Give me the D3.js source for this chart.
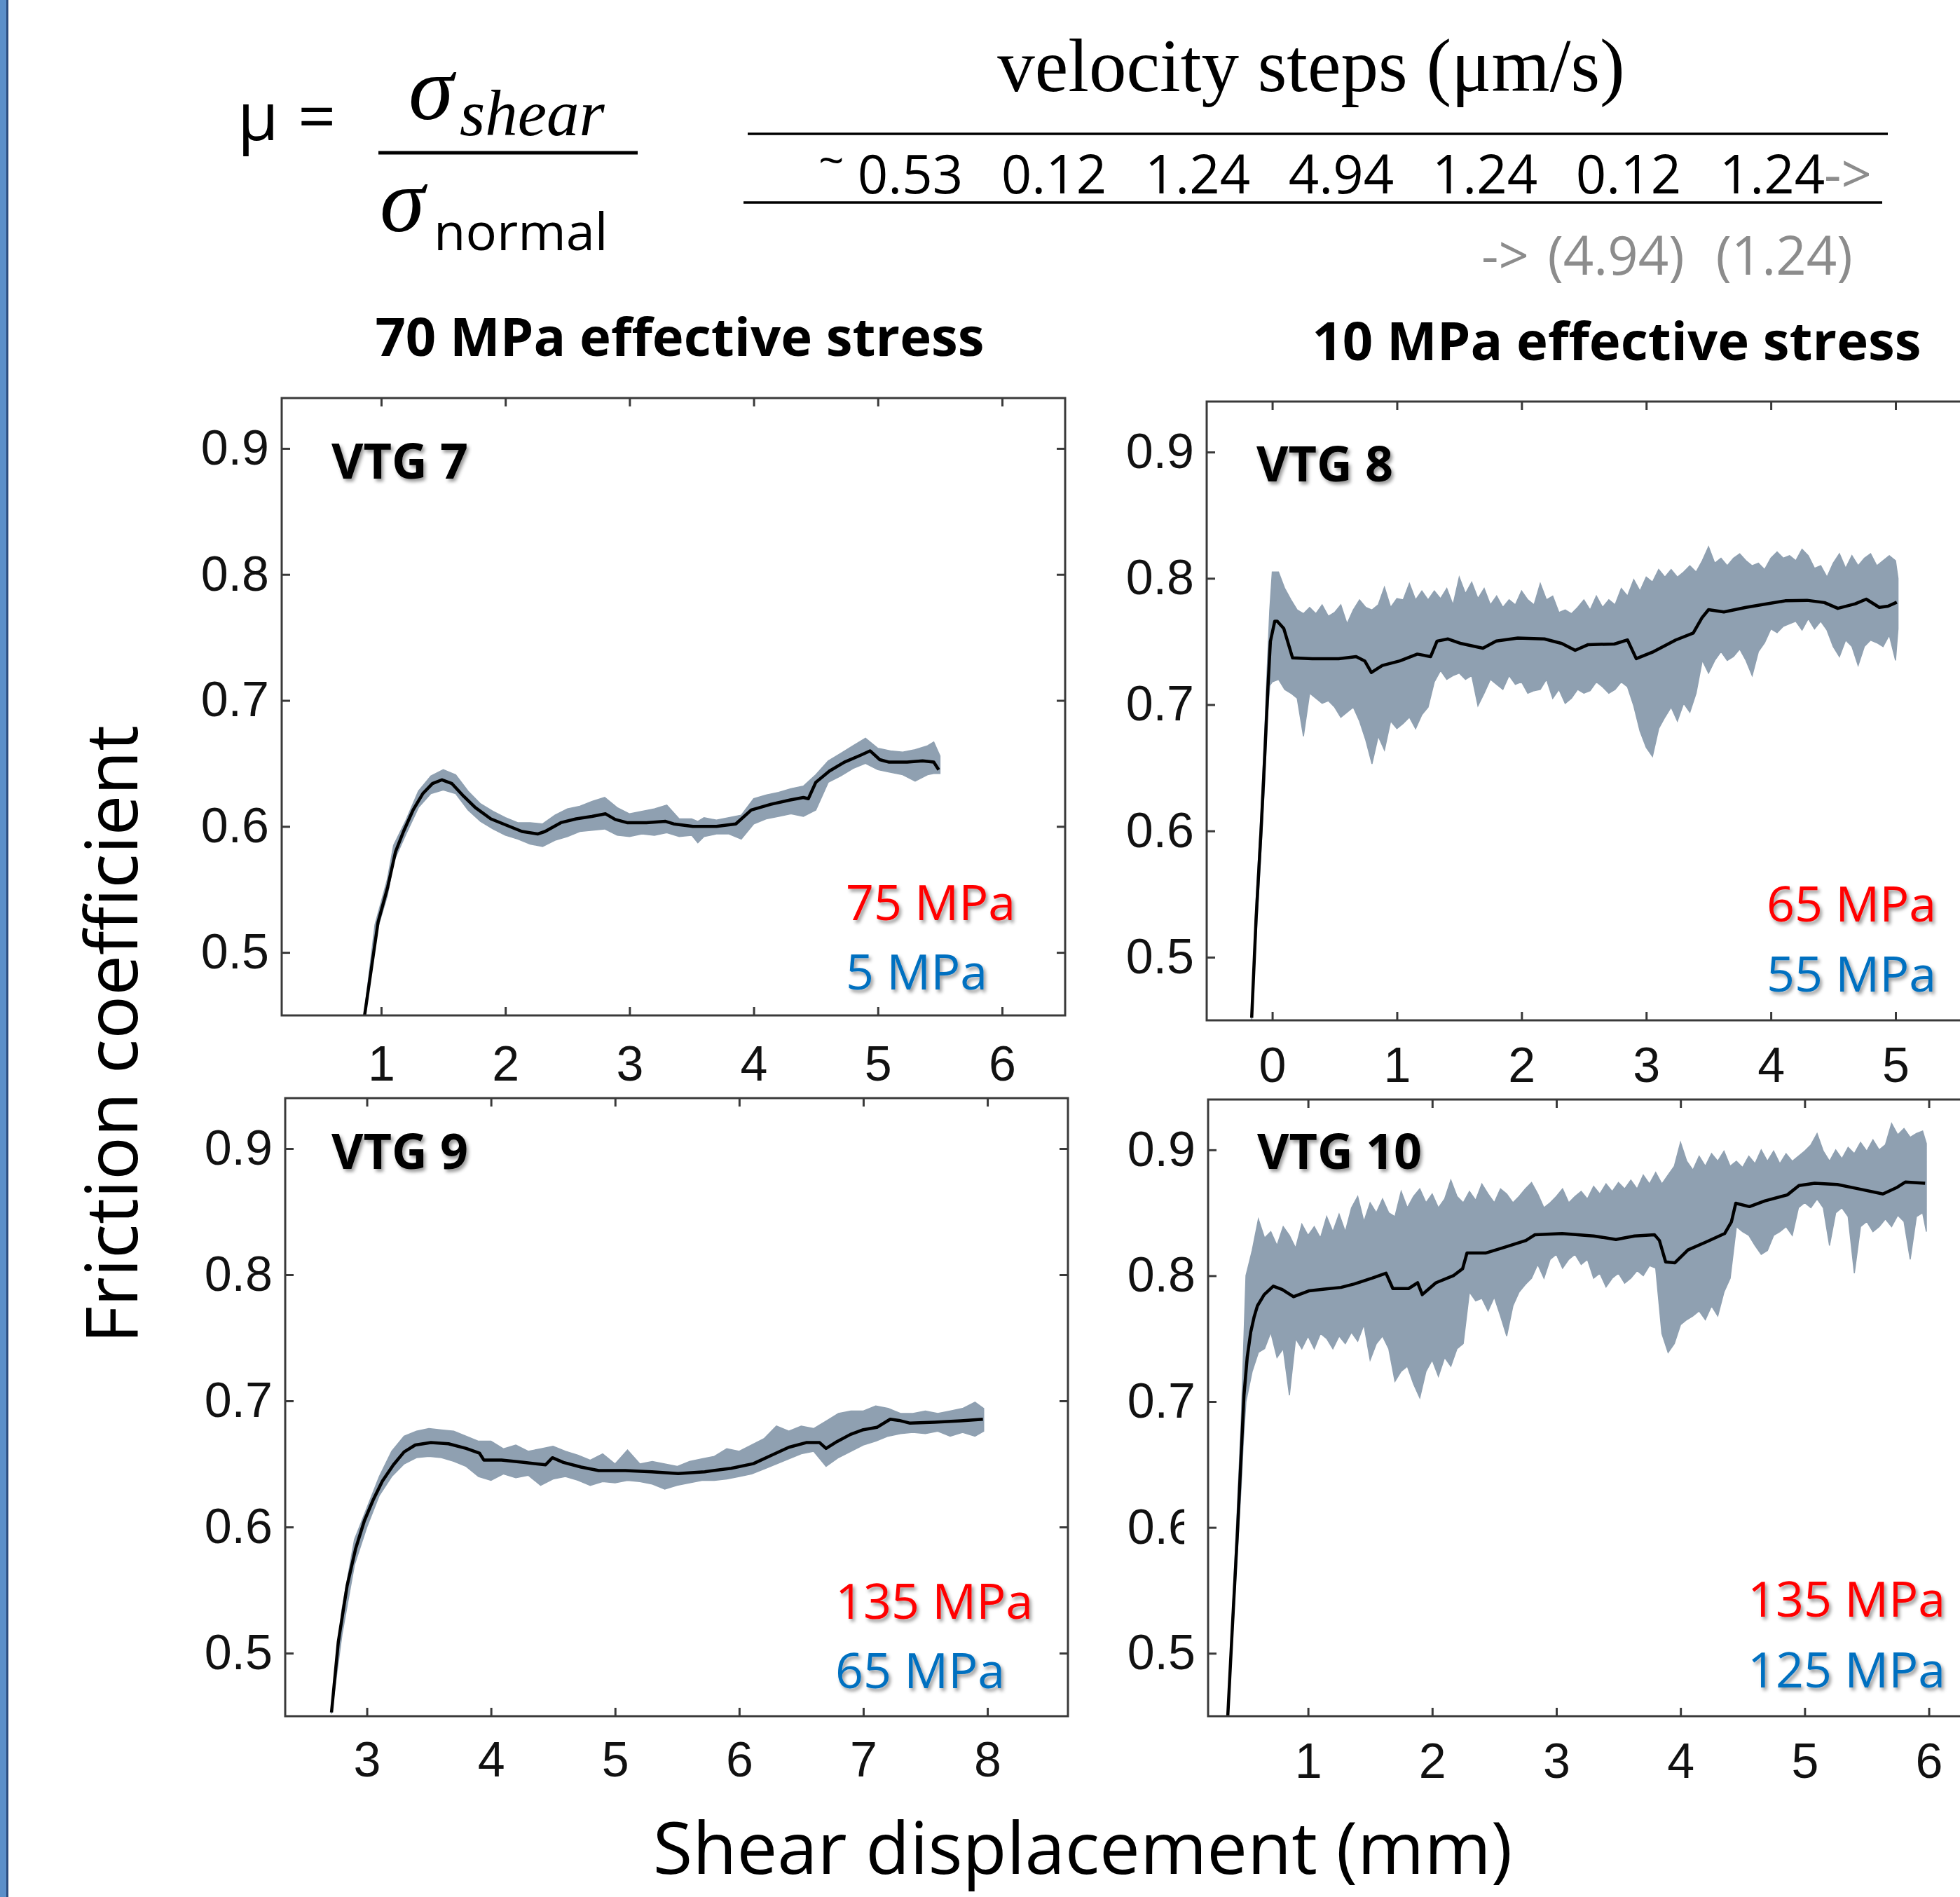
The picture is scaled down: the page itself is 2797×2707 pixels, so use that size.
<!DOCTYPE html>
<html>
<head>
<meta charset="utf-8">
<script src="https://cdn.jsdelivr.net/npm/d3@7"></script>
<style>
  body { margin: 0; background: #fff; }
  svg { display: block; background: #fff; }
  .frame { fill: none; stroke: #3a3a3a; stroke-width: 3; }
  .axis line { stroke: #3a3a3a; stroke-width: 3; }
  .axis text { font-family: "Liberation Sans", Arial, sans-serif; font-size: 70px; fill: #111; }
  .sans { font-family: "Open Sans", "Noto Sans", sans-serif; }
  .serif { font-family: "Liberation Serif", "DejaVu Serif", serif; }
</style>
</head>
<body>
<svg id="chart"></svg>
<script>
// ---- values ----
const yTicks = [0.5, 0.6, 0.7, 0.8, 0.9];
const xTicksVTG7 = [1, 2, 3, 4, 5, 6];
const xTicksVTG8 = [0, 1, 2, 3, 4, 5];
const xTicksVTG9 = [3, 4, 5, 6, 7, 8];
const xTicksVTG10 = [1, 2, 3, 4, 5, 6];

const panelNames = ['VTG 7', 'VTG 8', 'VTG 9', 'VTG 10'];
const confiningPressure = ['75 MPa', '65 MPa', '135 MPa', '135 MPa'];
const porePressure = ['5 MPa', '55 MPa', '65 MPa', '125 MPa'];
const stressTitles = ['70 MPa effective stress', '10 MPa effective stress'];
const velocitySteps = ['0.53', '0.12', '1.24', '4.94', '1.24', '0.12', '1.24'];
const velocityStepsCont = ['(4.94)', '(1.24)'];

// smoothed friction [displacement mm, mu]
const vtg7Smooth = [[0.865,0.449],[0.975,0.524],[1.053,0.552],[1.116,0.580],[1.18,0.596],[1.257,0.613],[1.335,0.626],[1.413,0.634],[1.49,0.637],[1.57,0.634],[1.664,0.624],[1.758,0.615],[1.883,0.606],[2.008,0.601],[2.134,0.596],[2.26,0.594],[2.32,0.596],[2.447,0.603],[2.57,0.606],[2.697,0.608],[2.807,0.610],[2.885,0.6055],[2.98,0.603],[3.136,0.603],[3.29,0.604],[3.355,0.602],[3.51,0.600],[3.70,0.600],[3.856,0.602],[3.98,0.613],[4.14,0.6176],[4.295,0.621],[4.40,0.623],[4.44,0.622],[4.50,0.635],[4.61,0.644],[4.73,0.651],[4.86,0.6565],[4.937,0.66],[5.015,0.653],[5.09,0.651],[5.235,0.651],[5.36,0.652],[5.45,0.651],[5.49,0.645]];
// raw friction envelope [displacement mm, low, high]
const vtg7Raw = [[0.865,0.448,0.452],[0.95,0.512,0.522],[1.05,0.545,0.558],[1.1,0.572,0.585],[1.2,0.594,0.605],[1.3,0.615,0.628],[1.4,0.626,0.640],[1.5,0.629,0.645],[1.6,0.626,0.641],[1.7,0.613,0.628],[1.8,0.604,0.618],[1.9,0.598,0.612],[2.0,0.593,0.607],[2.1,0.590,0.603],[2.2,0.586,0.603],[2.3,0.584,0.602],[2.4,0.589,0.609],[2.5,0.592,0.614],[2.6,0.596,0.616],[2.7,0.597,0.620],[2.8,0.598,0.623],[2.9,0.593,0.615],[3.0,0.592,0.610],[3.1,0.594,0.612],[3.2,0.593,0.614],[3.3,0.595,0.617],[3.4,0.592,0.606],[3.5,0.593,0.606],[3.55,0.587,0.604],[3.6,0.592,0.607],[3.7,0.594,0.605],[3.8,0.594,0.607],[3.9,0.590,0.609],[4.0,0.602,0.622],[4.1,0.606,0.625],[4.2,0.608,0.627],[4.3,0.610,0.630],[4.4,0.608,0.632],[4.5,0.613,0.641],[4.6,0.635,0.652],[4.7,0.640,0.658],[4.8,0.646,0.664],[4.9,0.650,0.670],[5.0,0.645,0.662],[5.1,0.643,0.660],[5.2,0.641,0.659],[5.3,0.636,0.661],[5.4,0.641,0.664],[5.45,0.642,0.667],[5.5,0.642,0.656]];

const vtg8Smooth = [[-0.165,0.452],[-0.13,0.53],[-0.09,0.60],[-0.06,0.66],[-0.035,0.713],[-0.015,0.75],[0.02,0.766],[0.04,0.766],[0.092,0.7604],[0.163,0.737],[0.32,0.7364],[0.532,0.7364],[0.673,0.738],[0.742,0.7346],[0.795,0.7254],[0.883,0.731],[1.023,0.7346],[1.164,0.740],[1.27,0.738],[1.322,0.7503],[1.41,0.752],[1.515,0.7484],[1.69,0.7447],[1.797,0.7503],[1.97,0.7527],[2.183,0.752],[2.323,0.7484],[2.43,0.743],[2.534,0.7475],[2.745,0.748],[2.85,0.7512],[2.92,0.7364],[3.06,0.742],[3.237,0.7512],[3.377,0.7567],[3.447,0.7687],[3.50,0.7752],[3.623,0.7734],[3.80,0.777],[3.94,0.7793],[4.115,0.7822],[4.29,0.7826],[4.43,0.7808],[4.537,0.7762],[4.677,0.7798],[4.765,0.7835],[4.87,0.777],[4.94,0.778],[5.01,0.7811]];
const vtg8Raw = [[-0.165,0.450,0.458],[-0.13,0.515,0.545],[-0.09,0.585,0.615],[-0.06,0.640,0.680],[-0.04,0.690,0.730],[-0.02,0.715,0.775],[0.0,0.718,0.805],[0.05,0.720,0.805],[0.1,0.712,0.792],[0.15,0.709,0.783],[0.2,0.705,0.775],[0.25,0.675,0.772],[0.3,0.709,0.777],[0.35,0.705,0.772],[0.4,0.701,0.779],[0.45,0.703,0.770],[0.5,0.698,0.773],[0.55,0.690,0.779],[0.6,0.694,0.764],[0.65,0.698,0.775],[0.7,0.687,0.783],[0.75,0.672,0.777],[0.8,0.653,0.775],[0.85,0.675,0.779],[0.9,0.664,0.793],[0.95,0.687,0.777],[1.0,0.681,0.784],[1.05,0.685,0.783],[1.1,0.690,0.796],[1.15,0.681,0.783],[1.2,0.692,0.790],[1.25,0.698,0.783],[1.3,0.718,0.790],[1.35,0.727,0.784],[1.4,0.720,0.792],[1.45,0.723,0.779],[1.5,0.725,0.801],[1.55,0.720,0.788],[1.6,0.723,0.797],[1.65,0.699,0.784],[1.7,0.709,0.792],[1.75,0.720,0.779],[1.8,0.716,0.786],[1.85,0.712,0.777],[1.9,0.723,0.783],[1.95,0.716,0.779],[2.0,0.718,0.790],[2.05,0.709,0.783],[2.1,0.711,0.779],[2.15,0.712,0.796],[2.2,0.720,0.783],[2.25,0.705,0.786],[2.3,0.712,0.773],[2.35,0.701,0.775],[2.4,0.705,0.772],[2.45,0.712,0.777],[2.5,0.709,0.783],[2.55,0.711,0.775],[2.6,0.718,0.786],[2.65,0.714,0.777],[2.7,0.709,0.783],[2.75,0.712,0.779],[2.8,0.718,0.792],[2.85,0.714,0.786],[2.9,0.699,0.799],[2.95,0.679,0.790],[3.0,0.666,0.801],[3.05,0.659,0.797],[3.1,0.681,0.807],[3.15,0.690,0.801],[3.2,0.698,0.807],[3.25,0.687,0.801],[3.3,0.701,0.805],[3.35,0.694,0.810],[3.4,0.709,0.805],[3.45,0.735,0.814],[3.5,0.725,0.825],[3.55,0.735,0.812],[3.6,0.742,0.816],[3.65,0.735,0.810],[3.7,0.738,0.816],[3.75,0.744,0.8195],[3.8,0.735,0.814],[3.85,0.723,0.810],[3.9,0.742,0.812],[3.95,0.749,0.807],[4.0,0.760,0.816],[4.05,0.757,0.821],[4.1,0.762,0.816],[4.15,0.764,0.818],[4.2,0.766,0.814],[4.25,0.759,0.823],[4.3,0.768,0.818],[4.35,0.760,0.808],[4.4,0.766,0.810],[4.45,0.759,0.801],[4.5,0.746,0.812],[4.55,0.738,0.8195],[4.6,0.751,0.808],[4.65,0.746,0.818],[4.7,0.731,0.810],[4.75,0.746,0.816],[4.8,0.751,0.8195],[4.85,0.749,0.810],[4.9,0.746,0.814],[4.95,0.755,0.818],[5.0,0.735,0.814],[5.02,0.760,0.800]];

const vtg9Smooth = [[2.715,0.453],[2.77,0.509],[2.84,0.553],[2.91,0.583],[2.98,0.605],[3.053,0.622],[3.125,0.6364],[3.214,0.6493],[3.30,0.6595],[3.39,0.665],[3.516,0.6669],[3.658,0.666],[3.80,0.6623],[3.907,0.6586],[3.943,0.653],[4.085,0.653],[4.263,0.6512],[4.44,0.6493],[4.495,0.6549],[4.584,0.6512],[4.726,0.6475],[4.868,0.6447],[5.082,0.6447],[5.295,0.6438],[5.509,0.6423],[5.722,0.6438],[5.936,0.6465],[6.114,0.6502],[6.256,0.6567],[6.40,0.6632],[6.54,0.6669],[6.648,0.6669],[6.70,0.6623],[6.79,0.6678],[6.897,0.6734],[7.0,0.6771],[7.11,0.679],[7.217,0.6854],[7.288,0.6845],[7.377,0.6823],[7.573,0.683],[7.786,0.6841],[7.964,0.6854]];
const vtg9Raw = [[2.715,0.452,0.458],[2.8,0.515,0.535],[2.9,0.570,0.590],[3.0,0.600,0.615],[3.1,0.625,0.640],[3.2,0.640,0.660],[3.3,0.650,0.672],[3.4,0.655,0.676],[3.5,0.656,0.678],[3.6,0.655,0.677],[3.7,0.652,0.676],[3.8,0.648,0.672],[3.9,0.640,0.668],[4.0,0.637,0.668],[4.1,0.642,0.662],[4.2,0.639,0.665],[4.3,0.641,0.660],[4.4,0.633,0.662],[4.5,0.638,0.664],[4.6,0.640,0.660],[4.7,0.637,0.657],[4.8,0.633,0.653],[4.9,0.636,0.658],[5.0,0.635,0.650],[5.1,0.637,0.661],[5.2,0.636,0.650],[5.3,0.634,0.652],[5.4,0.630,0.650],[5.5,0.633,0.648],[5.6,0.635,0.652],[5.7,0.637,0.654],[5.8,0.637,0.656],[5.9,0.638,0.662],[6.0,0.640,0.660],[6.1,0.642,0.665],[6.2,0.646,0.670],[6.3,0.650,0.680],[6.4,0.654,0.676],[6.5,0.658,0.680],[6.6,0.660,0.678],[6.7,0.648,0.684],[6.8,0.655,0.690],[6.9,0.660,0.692],[7.0,0.665,0.692],[7.1,0.668,0.696],[7.2,0.672,0.694],[7.3,0.674,0.690],[7.4,0.675,0.690],[7.5,0.674,0.692],[7.6,0.676,0.690],[7.7,0.672,0.692],[7.8,0.675,0.694],[7.9,0.672,0.699],[7.97,0.676,0.694]];

const vtg10Smooth = [[0.353,0.449],[0.39,0.52],[0.432,0.597],[0.46,0.655],[0.484,0.705],[0.51,0.735],[0.538,0.755],[0.565,0.767],[0.592,0.776],[0.647,0.785],[0.72,0.7917],[0.792,0.789],[0.883,0.7833],[1.01,0.788],[1.12,0.7893],[1.265,0.7907],[1.374,0.7935],[1.52,0.7982],[1.628,0.802],[1.683,0.7898],[1.81,0.7898],[1.883,0.7944],[1.92,0.785],[2.03,0.7944],[2.17,0.800],[2.245,0.8056],[2.28,0.818],[2.43,0.818],[2.573,0.8223],[2.755,0.828],[2.828,0.8326],[3.046,0.8335],[3.30,0.8316],[3.48,0.8288],[3.63,0.8316],[3.79,0.8326],[3.83,0.828],[3.88,0.811],[3.955,0.8103],[4.06,0.8205],[4.21,0.827],[4.355,0.8335],[4.41,0.8428],[4.445,0.8576],[4.555,0.8549],[4.68,0.8595],[4.86,0.8642],[4.954,0.8716],[5.08,0.8735],[5.263,0.8725],[5.445,0.8688],[5.63,0.865],[5.737,0.8698],[5.81,0.8744],[5.97,0.8735]];
const vtg10Raw = [[0.353,0.448,0.453],[0.39,0.51,0.53],[0.43,0.58,0.615],[0.46,0.63,0.68],[0.48,0.67,0.74],[0.5,0.700,0.800],[0.55,0.724,0.820],[0.6,0.739,0.845],[0.65,0.742,0.830],[0.7,0.755,0.835],[0.75,0.735,0.824],[0.8,0.742,0.839],[0.85,0.705,0.832],[0.9,0.750,0.822],[0.95,0.742,0.841],[1.0,0.752,0.832],[1.05,0.742,0.839],[1.1,0.754,0.830],[1.15,0.750,0.847],[1.2,0.742,0.835],[1.25,0.752,0.849],[1.3,0.746,0.835],[1.35,0.755,0.854],[1.4,0.748,0.863],[1.45,0.761,0.843],[1.5,0.733,0.858],[1.55,0.746,0.850],[1.6,0.752,0.861],[1.65,0.742,0.850],[1.7,0.716,0.847],[1.75,0.724,0.867],[1.8,0.728,0.854],[1.85,0.714,0.863],[1.9,0.703,0.869],[1.95,0.724,0.858],[2.0,0.733,0.865],[2.05,0.720,0.854],[2.1,0.735,0.861],[2.15,0.728,0.876],[2.2,0.742,0.863],[2.25,0.746,0.858],[2.3,0.787,0.867],[2.35,0.780,0.860],[2.4,0.782,0.873],[2.45,0.772,0.865],[2.5,0.783,0.858],[2.55,0.768,0.869],[2.6,0.752,0.865],[2.65,0.776,0.858],[2.7,0.787,0.863],[2.75,0.793,0.869],[2.8,0.798,0.874],[2.85,0.809,0.865],[2.9,0.798,0.854],[2.95,0.813,0.858],[3.0,0.817,0.863],[3.05,0.806,0.869],[3.1,0.813,0.858],[3.15,0.817,0.863],[3.2,0.809,0.867],[3.25,0.813,0.861],[3.3,0.798,0.871],[3.35,0.802,0.865],[3.4,0.791,0.873],[3.45,0.798,0.867],[3.5,0.802,0.874],[3.55,0.794,0.869],[3.6,0.798,0.876],[3.65,0.804,0.869],[3.7,0.800,0.880],[3.75,0.808,0.873],[3.8,0.806,0.882],[3.85,0.754,0.873],[3.9,0.739,0.880],[3.95,0.746,0.887],[4.0,0.761,0.906],[4.05,0.765,0.891],[4.1,0.768,0.884],[4.15,0.772,0.895],[4.2,0.765,0.887],[4.25,0.776,0.897],[4.3,0.768,0.891],[4.35,0.787,0.899],[4.4,0.798,0.887],[4.45,0.839,0.891],[4.5,0.835,0.886],[4.55,0.832,0.895],[4.6,0.824,0.889],[4.65,0.817,0.900],[4.7,0.820,0.891],[4.75,0.832,0.899],[4.8,0.835,0.889],[4.85,0.839,0.897],[4.9,0.832,0.891],[4.95,0.854,0.895],[5.0,0.858,0.899],[5.05,0.854,0.904],[5.1,0.861,0.913],[5.15,0.854,0.899],[5.2,0.824,0.891],[5.25,0.850,0.900],[5.3,0.854,0.893],[5.35,0.847,0.902],[5.4,0.802,0.897],[5.45,0.839,0.906],[5.5,0.843,0.899],[5.55,0.835,0.908],[5.6,0.839,0.900],[5.65,0.845,0.904],[5.7,0.839,0.921],[5.75,0.848,0.912],[5.8,0.843,0.917],[5.85,0.813,0.910],[5.9,0.847,0.913],[5.95,0.850,0.915],[5.98,0.835,0.905]];

// ---- layout ----
const W = 2797, H = 2707;
const svg = d3.select('#chart').attr('width', W).attr('height', H);

const defs = svg.append('defs');
defs.append('filter')
    .attr('id', 'shadow')
    .attr('x', '-10%').attr('y', '-20%').attr('width', '130%').attr('height', '160%')
    .append('feDropShadow')
    .attr('dx', 3).attr('dy', 4).attr('stdDeviation', 2.5)
    .attr('flood-color', '#000').attr('flood-opacity', 0.4);

// slide border on the left
svg.append('rect').attr('x', 0).attr('y', 0).attr('width', 10).attr('height', H).attr('fill', '#5b8fc9');
svg.append('rect').attr('x', 9).attr('y', 0).attr('width', 3).attr('height', H).attr('fill', '#2b4c7e');

const panels = [
    { smooth: vtg7Smooth, raw: vtg7Raw, ticks: xTicksVTG7, left: 402, top: 568, width: 1118, height: 881, xDomain: [0.199, 6.508], name: [71, 115], press: [805, 136, 37], pad: 43 },
    { smooth: vtg8Smooth, raw: vtg8Raw, ticks: xTicksVTG8, left: 1722, top: 573, width: 1118, height: 883, xDomain: [-0.526, 5.759], name: [71, 114], press: [799, 141, 41], pad: 38 },
    { smooth: vtg9Smooth, raw: vtg9Raw, ticks: xTicksVTG9, left: 407, top: 1567, width: 1117, height: 882, xDomain: [2.342, 8.649], name: [66, 101], press: [785, 139, 40], pad: 36 },
    { smooth: vtg10Smooth, raw: vtg10Raw, ticks: xTicksVTG10, left: 1724, top: 1569, width: 1118, height: 880, xDomain: [0.195, 6.505], name: [70, 99], press: [770, 142, 41], pad: 38 }
];

panels.forEach((p, i) => {
    const g = svg.append('g').attr('transform', `translate(${p.left},${p.top})`);
    const x = d3.scaleLinear().domain(p.xDomain).range([0, p.width]);
    const y = d3.scaleLinear().domain([0.45, 0.94]).range([p.height, 0]);

    defs.append('clipPath').attr('id', `clip${i}`)
        .append('rect').attr('width', p.width).attr('height', p.height);

    // axes with inward ticks on all four sides
    g.append('g').attr('class', 'axis')
        .call(d3.axisLeft(y).tickValues(yTicks).tickSizeInner(-12).tickSizeOuter(0).tickPadding(18).tickFormat(d3.format('.1f')))
        .call(a => a.select('.domain').remove());
    g.append('g').attr('class', 'axis').attr('transform', `translate(${p.width},0)`)
        .call(d3.axisRight(y).tickValues(yTicks).tickSizeInner(-12).tickSizeOuter(0).tickFormat(''))
        .call(a => a.select('.domain').remove());
    g.append('g').attr('class', 'axis').attr('transform', `translate(0,${p.height})`)
        .call(d3.axisBottom(x).tickValues(p.ticks).tickSizeInner(-12).tickSizeOuter(0).tickPadding(p.pad).tickFormat(d3.format('d')))
        .call(a => a.select('.domain').remove());
    g.append('g').attr('class', 'axis')
        .call(d3.axisTop(x).tickValues(p.ticks).tickSizeInner(-12).tickSizeOuter(0).tickFormat(''))
        .call(a => a.select('.domain').remove());

    const plot = g.append('g').attr('clip-path', `url(#clip${i})`);

    // raw signal envelope
    const band = d3.area()
        .x(d => x(d[0]))
        .y0(d => y(d[1]))
        .y1(d => y(d[2]));
    plot.append('path')
        .datum(p.raw)
        .attr('d', band)
        .attr('fill', '#8fa0b1')
        .attr('stroke', '#8fa0b1')
        .attr('stroke-width', 1.5);

    // smoothed curve
    const line = d3.line().x(d => x(d[0])).y(d => y(d[1]));
    plot.append('path')
        .datum(p.smooth)
        .attr('d', line)
        .attr('fill', 'none')
        .attr('stroke', '#000')
        .attr('stroke-width', 4.5)
        .attr('stroke-linejoin', 'round');

    g.append('rect').attr('class', 'frame').attr('width', p.width).attr('height', p.height);

    g.append('text')
        .attr('class', 'sans')
        .attr('x', p.name[0]).attr('y', p.name[1])
        .attr('font-size', 70).attr('font-weight', 700)
        .attr('filter', 'url(#shadow)')
        .text(panelNames[i]);

    g.append('text')
        .attr('class', 'sans')
        .attr('x', p.press[0]).attr('y', p.height - p.press[1])
        .attr('font-size', 70).attr('fill', '#ff0000')
        .attr('filter', 'url(#shadow)')
        .text(confiningPressure[i]);
    g.append('text')
        .attr('class', 'sans')
        .attr('x', p.press[0]).attr('y', p.height - p.press[2])
        .attr('font-size', 70).attr('fill', '#0070c0')
        .attr('filter', 'url(#shadow)')
        .text(porePressure[i]);
});

// the 0.6 label of the last panel is partly hidden in the original
svg.append('rect').attr('x', 1690).attr('y', 2140).attr('width', 20).attr('height', 70).attr('fill', '#fff');

// section titles
svg.selectAll('.stress-title')
    .data(stressTitles)
    .enter().append('text')
    .attr('class', 'sans stress-title')
    .attr('x', (d, i) => [970, 2307][i])
    .attr('y', (d, i) => [508, 514][i])
    .attr('text-anchor', 'middle')
    .attr('font-size', 76).attr('font-weight', 700)
    .text(d => d);

// axis titles
svg.append('text')
    .attr('class', 'sans')
    .attr('transform', 'translate(196,1476) rotate(-90)')
    .attr('text-anchor', 'middle')
    .attr('font-size', 103)
    .text('Friction coefficient');
svg.append('text')
    .attr('class', 'sans')
    .attr('x', 1545).attr('y', 2674)
    .attr('text-anchor', 'middle')
    .attr('font-size', 103)
    .text('Shear displacement (mm)');

// friction definition
const formula = svg.append('g');
formula.append('text').attr('class', 'sans').attr('x', 339).attr('y', 200).attr('font-size', 95).text('μ');
formula.append('text').attr('class', 'sans').attr('x', 425).attr('y', 200).attr('font-size', 95).text('=');
formula.append('line').attr('x1', 540).attr('x2', 910).attr('y1', 218).attr('y2', 218)
    .attr('stroke', '#000').attr('stroke-width', 5);
formula.append('text').attr('class', 'serif').attr('x', 583).attr('y', 170)
    .attr('font-size', 130).attr('font-style', 'italic').text('σ');
formula.append('text').attr('class', 'serif').attr('x', 656).attr('y', 193)
    .attr('font-size', 93).attr('font-style', 'italic').text('shear');
formula.append('text').attr('class', 'serif').attr('x', 542).attr('y', 330)
    .attr('font-size', 130).attr('font-style', 'italic').text('σ');
formula.append('text').attr('class', 'sans').attr('x', 619).attr('y', 357)
    .attr('font-size', 74).text('normal');

// velocity step header
const header = svg.append('g');
header.append('text').attr('class', 'serif')
    .attr('x', 1871).attr('y', 130).attr('text-anchor', 'middle')
    .attr('font-size', 107)
    .text('velocity steps (μm/s)');
header.append('line').attr('x1', 1067).attr('x2', 2694).attr('y1', 191).attr('y2', 191)
    .attr('stroke', '#000').attr('stroke-width', 3.5);
header.append('line').attr('x1', 1061).attr('x2', 2686).attr('y1', 289).attr('y2', 289)
    .attr('stroke', '#000').attr('stroke-width', 3.5);

const stepX = d3.scalePoint().domain(d3.range(velocitySteps.length)).range([1299, 2529]);
header.selectAll('.step')
    .data(velocitySteps)
    .enter().append('text')
    .attr('class', 'sans step')
    .attr('x', (d, i) => stepX(i)).attr('y', 276)
    .attr('text-anchor', 'middle')
    .attr('font-size', 76)
    .text(d => d);
header.append('text').attr('class', 'sans')
    .attr('x', 1168).attr('y', 252).attr('font-size', 64).text('~');
header.append('text').attr('class', 'sans')
    .attr('x', 2603).attr('y', 276).attr('font-size', 76).attr('fill', '#8c8c8c').text('->');

const contX = d3.scalePoint().domain(d3.range(velocityStepsCont.length)).range([2306, 2546]);
header.append('text').attr('class', 'sans')
    .attr('x', 2114).attr('y', 392).attr('font-size', 76).attr('fill', '#8c8c8c').text('->');
header.selectAll('.step-cont')
    .data(velocityStepsCont)
    .enter().append('text')
    .attr('class', 'sans step-cont')
    .attr('x', (d, i) => contX(i)).attr('y', 392)
    .attr('text-anchor', 'middle')
    .attr('font-size', 76).attr('fill', '#8c8c8c')
    .text(d => d);
</script>
</body>
</html>
